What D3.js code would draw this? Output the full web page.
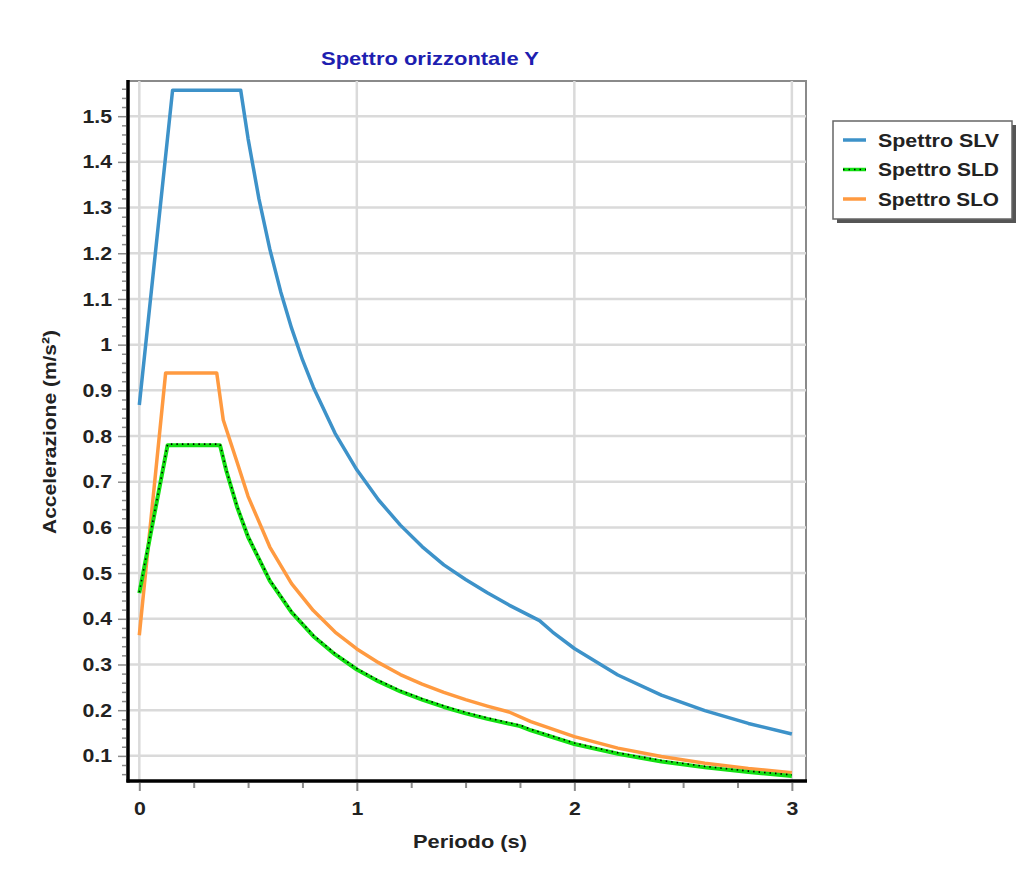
<!DOCTYPE html>
<html>
<head>
<meta charset="utf-8">
<script src="https://cdn.jsdelivr.net/npm/d3@7"></script>
<style>
  body { margin: 0; background: #fff; }
  svg text { font-family: "Liberation Sans", Arial, sans-serif; }
</style>
</head>
<body>
<svg id="chart" width="1035" height="881"></svg>
<script>
// spectra: period (s) and acceleration (m/s²)
const periodSLV = [0, 0.153, 0.466, 0.5, 0.55, 0.6, 0.65, 0.7, 0.75, 0.8, 0.9, 1.0, 1.1, 1.2, 1.3, 1.4, 1.5, 1.6, 1.7, 1.84, 1.9, 2.0, 2.2, 2.4, 2.6, 2.8, 3.0];
const accSLV    = [0.868, 1.557, 1.557, 1.451, 1.319, 1.209, 1.116, 1.036, 0.967, 0.907, 0.806, 0.726, 0.660, 0.605, 0.558, 0.518, 0.486, 0.457, 0.430, 0.396, 0.371, 0.335, 0.277, 0.233, 0.199, 0.171, 0.148];

const periodSLD = [0, 0.13, 0.371, 0.4, 0.45, 0.5, 0.6, 0.7, 0.8, 0.9, 1.0, 1.1, 1.2, 1.3, 1.4, 1.5, 1.6, 1.75, 1.8, 2.0, 2.2, 2.4, 2.6, 2.8, 3.0];
const accSLD    = [0.456, 0.78, 0.78, 0.724, 0.644, 0.579, 0.483, 0.414, 0.362, 0.322, 0.289, 0.263, 0.241, 0.223, 0.207, 0.193, 0.181, 0.165, 0.156, 0.126, 0.1045, 0.0878, 0.0748, 0.0645, 0.0562];

const periodSLO = [0, 0.121, 0.356, 0.386, 0.45, 0.5, 0.6, 0.7, 0.8, 0.9, 1.0, 1.1, 1.2, 1.3, 1.4, 1.5, 1.6, 1.7, 1.8, 2.0, 2.2, 2.4, 2.6, 2.8, 3.0];
const accSLO    = [0.364, 0.938, 0.938, 0.835, 0.742, 0.668, 0.557, 0.477, 0.418, 0.371, 0.334, 0.304, 0.278, 0.257, 0.239, 0.223, 0.209, 0.196, 0.175, 0.142, 0.117, 0.0986, 0.084, 0.0724, 0.0631];

const seriesNames = ['Spettro SLV', 'Spettro SLD', 'Spettro SLO'];
const seriesColors = ['#3d92c9', '#11e011', '#ff9a40'];

const xTicks = [0, 1, 2, 3];
const yTicks = [0.1, 0.2, 0.3, 0.4, 0.5, 0.6, 0.7, 0.8, 0.9, 1, 1.1, 1.2, 1.3, 1.4, 1.5];

const svg = d3.select('#chart');
const plotLeft = 128, plotRight = 806, plotTop = 81, plotBottom = 781;
const stretch = 1.12; // the reference text is a bit wide

const x = d3.scaleLinear().domain([-0.052, 3.065]).range([plotLeft, plotRight]);
const y = d3.scaleLinear().domain([0.045, 1.577]).range([plotBottom, plotTop]);

// frame
svg.append('rect')
  .attr('x', plotLeft).attr('y', plotTop)
  .attr('width', plotRight - plotLeft).attr('height', plotBottom - plotTop)
  .attr('fill', '#fff').attr('stroke', '#8a8a8a').attr('stroke-width', 2);

// grid
const grid = svg.append('g');
grid.selectAll('line.h').data(yTicks).enter().append('line')
  .attr('x1', plotLeft).attr('x2', plotRight)
  .attr('y1', d => y(d)).attr('y2', d => y(d))
  .attr('stroke', '#dadada').attr('stroke-width', 2.5);
grid.selectAll('line.v').data(xTicks).enter().append('line')
  .attr('y1', plotTop).attr('y2', plotBottom)
  .attr('x1', d => x(d)).attr('x2', d => x(d))
  .attr('stroke', '#dadada').attr('stroke-width', 2.5);

// y axis: minor then major ticks
const yMinor = d3.range(0.06, 1.58, 0.02).filter(v => Math.abs(v * 10 - Math.round(v * 10)) > 0.01);
const yAxisG = svg.append('g').attr('transform', `translate(${plotLeft - 2},0)`);
yAxisG.call(d3.axisLeft(y).tickValues(yMinor).tickSize(4).tickFormat(''));
yAxisG.append('g').call(d3.axisLeft(y).tickValues(yTicks).tickSize(8).tickPadding(5).tickFormat(d3.format('')));
yAxisG.selectAll('.domain').remove();
yAxisG.selectAll('line').attr('stroke', '#8c8c8c').attr('stroke-width', 1.5);
yAxisG.selectAll('text').attr('font-size', 19).attr('font-weight', 'bold').attr('fill', '#222')
  .attr('x', -14 / stretch).attr('transform', `scale(${stretch},1)`);

// x axis
const xMinor = [0.25, 0.5, 0.75, 1.25, 1.5, 1.75, 2.25, 2.5, 2.75];
const xAxisG = svg.append('g').attr('transform', `translate(0,${plotBottom + 2})`);
xAxisG.call(d3.axisBottom(x).tickValues(xMinor).tickSize(5).tickFormat(''));
xAxisG.append('g').call(d3.axisBottom(x).tickValues(xTicks).tickSize(8).tickPadding(11).tickFormat(d3.format('d')));
xAxisG.selectAll('.domain').remove();
xAxisG.selectAll('line').attr('stroke', '#8c8c8c').attr('stroke-width', 2);
xAxisG.selectAll('text').attr('font-size', 19).attr('font-weight', 'bold').attr('fill', '#222')
  .attr('transform', `scale(${stretch},1)`);

// thick black axis lines
svg.append('line').attr('x1', plotLeft).attr('x2', plotLeft).attr('y1', plotTop - 1).attr('y2', plotBottom + 1.5)
  .attr('stroke', '#000').attr('stroke-width', 3.5);
svg.append('line').attr('x1', plotLeft - 1.5).attr('x2', plotRight + 1).attr('y1', plotBottom).attr('y2', plotBottom)
  .attr('stroke', '#000').attr('stroke-width', 3.5);

// curves
const line = d3.line().x(d => x(d[0])).y(d => y(d[1]));
const toPts = (ts, vs) => ts.map((t, i) => [t, vs[i]]);
const plot = svg.append('g');

plot.append('path').datum(toPts(periodSLO, accSLO))
  .attr('d', line).attr('fill', 'none').attr('stroke', seriesColors[2]).attr('stroke-width', 3.5)
  .attr('stroke-linejoin', 'round');
plot.append('path').datum(toPts(periodSLD, accSLD))
  .attr('d', line).attr('fill', 'none').attr('stroke', seriesColors[1]).attr('stroke-width', 4)
  .attr('stroke-linejoin', 'round');
plot.append('path').datum(toPts(periodSLD, accSLD))
  .attr('d', line).attr('fill', 'none').attr('stroke', '#000').attr('stroke-width', 1.6)
  .attr('stroke-dasharray', '1.5,4').attr('transform', 'translate(0,-1)');
plot.append('path').datum(toPts(periodSLV, accSLV))
  .attr('d', line).attr('fill', 'none').attr('stroke', seriesColors[0]).attr('stroke-width', 3.5)
  .attr('stroke-linejoin', 'round');

// titles
svg.append('text').attr('x', 430).attr('y', 65).attr('text-anchor', 'middle')
  .attr('font-size', 19).attr('font-weight', 'bold').attr('fill', '#1e1eb0')
  .attr('textLength', 218).attr('lengthAdjust', 'spacingAndGlyphs')
  .text('Spettro orizzontale Y');
svg.append('text').attr('x', 470).attr('y', 848).attr('text-anchor', 'middle')
  .attr('font-size', 19).attr('font-weight', 'bold').attr('fill', '#222')
  .attr('textLength', 114).attr('lengthAdjust', 'spacingAndGlyphs')
  .text('Periodo (s)');
svg.append('text').attr('transform', 'translate(56,432) rotate(-90)').attr('text-anchor', 'middle')
  .attr('font-size', 19).attr('font-weight', 'bold').attr('fill', '#222')
  .attr('textLength', 204).attr('lengthAdjust', 'spacingAndGlyphs')
  .text('Accelerazione (m/s²)');

// legend
const lg = svg.append('g').attr('transform', 'translate(833,121)');
lg.append('rect').attr('x', 4).attr('y', 4).attr('width', 179).attr('height', 98).attr('fill', '#555');
lg.append('rect').attr('width', 179).attr('height', 98).attr('fill', '#fff')
  .attr('stroke', '#666').attr('stroke-width', 1.5);
seriesNames.forEach((name, i) => {
  const yy = 19 + i * 29.5;
  lg.append('line').attr('x1', 10).attr('x2', 33).attr('y1', yy).attr('y2', yy)
    .attr('stroke', seriesColors[i]).attr('stroke-width', 3.5);
  if (i === 1) {
    lg.append('line').attr('x1', 10).attr('x2', 33).attr('y1', yy).attr('y2', yy)
      .attr('stroke', '#000').attr('stroke-width', 1.5).attr('stroke-dasharray', '1.5,4');
  }
  lg.append('text').attr('x', 45).attr('y', yy + 6.5)
    .attr('font-size', 19).attr('font-weight', 'bold').attr('fill', '#222')
    .attr('textLength', 121).attr('lengthAdjust', 'spacingAndGlyphs')
    .text(name);
});
</script>
</body>
</html>
